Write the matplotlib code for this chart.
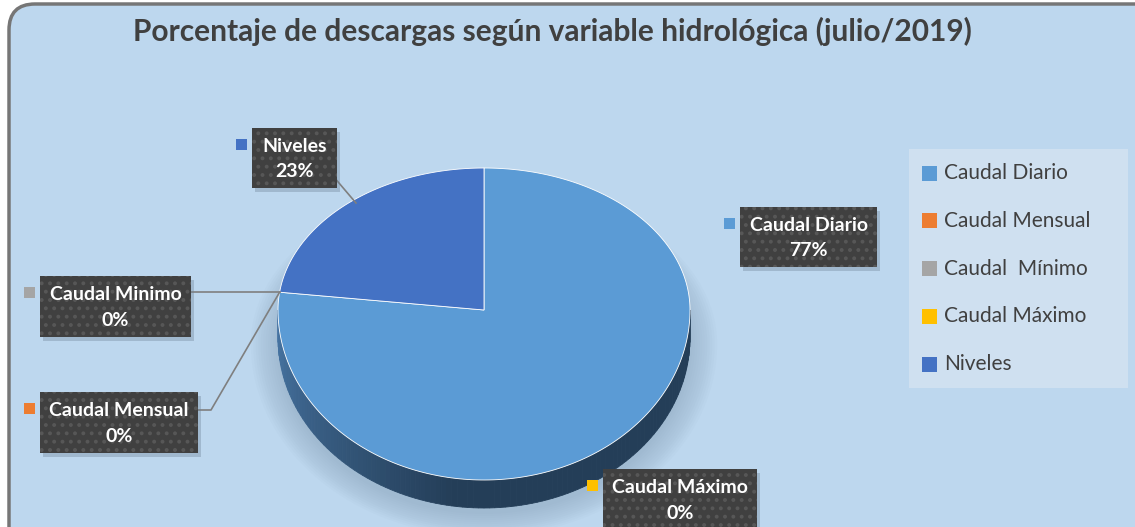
import numpy as np
import matplotlib
matplotlib.use('Agg')
import matplotlib.pyplot as plt
from matplotlib.patches import FancyBboxPatch, Rectangle, Polygon

plt.rcParams['font.family'] = ['Lato', 'DejaVu Sans']

# 数据
categorias = ['Caudal Diario', 'Caudal Mensual', 'Caudal Minimo', 'Caudal Máximo', 'Niveles']
leyenda = ['Caudal Diario', 'Caudal Mensual', 'Caudal  Mínimo', 'Caudal Máximo', 'Niveles']
valores = [77, 0, 0, 0, 23]
colores = ['#5B9BD5', '#ED7D31', '#A5A5A5', '#FFC000', '#4472C4']
titulo = 'Porcentaje de descargas según variable hidrológica (julio/2019)'

W, H = 1135, 527
fig = plt.figure(figsize=(W / 100, H / 100), dpi=100)
fig.patch.set_facecolor('white')
ax = fig.add_axes([0, 0, 1, 1])
ax.set_xlim(0, W)
ax.set_ylim(H, 0)
ax.axis('off')

# 圆角背景框
fondo = FancyBboxPatch((9, 4), 1160, 560, boxstyle='round,pad=0,rounding_size=26',
                       facecolor='#BDD7EE', edgecolor='#767676', linewidth=2.5, zorder=0)
ax.add_patch(fondo)

ax.text(552, 31, titulo, ha='center', va='center', fontsize=21.5,
        fontweight='bold', color='#404040', zorder=5)

# 饼图几何（像素，带简单透视：后半部分压缩）
cx, cy, rx, ry_b, ry_f, prof = 484, 310, 206, 142, 170, 28

def elipse(t, dy=0):
    s = np.sin(t)
    ry = np.where(s >= 0, ry_b, ry_f)
    return cx + rx * np.cos(t), cy - ry * s + dy

# 阴影
t_all = np.linspace(0, 2 * np.pi, 240)
for k in range(12):
    esc = 1 + k * 0.012
    xs, ys = elipse(t_all)
    ax.fill(cx + (xs - cx) * esc, cy + prof + 6 + (ys - cy) * esc,
            color='#7890a8', alpha=0.035, lw=0, zorder=1)

# 计算扇区角度（从12点钟方向顺时针）
total = sum(valores)
angulos = []
inicio = 90.0
for v in valores:
    fin = inicio - 360.0 * v / total
    angulos.append((inicio, fin))
    inicio = fin

# 侧面（前半部分，可见）
c_izq = np.array([72, 118, 165]) / 255
c_osc = np.array([36, 62, 88]) / 255
n = 120
ts = np.linspace(np.pi, 2 * np.pi, n + 1)
for i in range(n):
    t0, t1 = ts[i], ts[i + 1]
    x0, y0 = elipse(t0)
    x1, y1 = elipse(t1)
    f = min(1.0, i / (n * 0.45))
    col = c_izq * (1 - f) + c_osc * f
    ax.add_patch(Polygon([(x0, y0), (x1, y1), (x1, y1 + prof), (x0, y0 + prof)],
                         closed=True, facecolor=col, edgecolor=col, lw=0.6, zorder=2))

# 顶面
for (a0, a1), col, v in zip(angulos, colores, valores):
    if v == 0:
        continue
    t = np.radians(np.linspace(a0, a1, 240))
    xs, ys = elipse(t)
    pts = [(cx, cy)] + list(zip(xs, ys))
    ax.add_patch(Polygon(pts, closed=True, facecolor=col, edgecolor='white',
                         lw=0.6, zorder=3))

# 引导线
gris = '#7F7F7F'
px, py = elipse(np.radians(angulos[1][0]))
ax.plot([191, px], [py, py], color=gris, lw=1.2, zorder=4)
ax.plot([198, 211, px], [410, 410, py], color=gris, lw=1.2, zorder=4)
ax.plot([333, 356], [176, 203], color=gris, lw=1.2, zorder=4)

# 数据标签
plt.rcParams['hatch.linewidth'] = 1.6
etiquetas = [
    # (x0, y0, ancho, alto, indice)
    (740, 207, 137, 60, 0),
    (40, 392, 158, 61, 1),
    (40, 276, 151, 61, 2),
    (603, 469, 154, 61, 3),
    (252, 128, 85, 60, 4),
]
for x0, y0, w, h, idx in etiquetas:
    ax.add_patch(Rectangle((x0 + 3, y0 + 4), w, h, facecolor='#6b7f93', alpha=0.35,
                           lw=0, zorder=5))
    ax.add_patch(Rectangle((x0, y0), w, h, facecolor='#404040', edgecolor='#575757',
                           hatch='..', lw=0, zorder=6))
    ax.text(x0 + w / 2, y0 + h * 0.31, categorias[idx], ha='center', va='center',
            fontsize=14, fontweight='bold', color='white', zorder=7)
    ax.text(x0 + w / 2, y0 + h * 0.73, f'{valores[idx]}%', ha='center', va='center',
            fontsize=14, fontweight='bold', color='white', zorder=7)
    ax.add_patch(Rectangle((x0 - 16, y0 + 11), 11, 11, facecolor=colores[idx],
                           lw=0, zorder=7))

# 图例
ax.add_patch(Rectangle((909, 149), 219, 239, facecolor='#CFE0F0', lw=0, zorder=4))
for i, (nombre, col) in enumerate(zip(leyenda, colores)):
    y = 173 + i * 47.8
    ax.add_patch(Rectangle((922, y - 7.5), 15, 15, facecolor=col, lw=0, zorder=5))
    ax.text(944, y, nombre, ha='left', va='center', fontsize=15,
            color='#404040', zorder=5)

fig.savefig('out.png', dpi=100)
